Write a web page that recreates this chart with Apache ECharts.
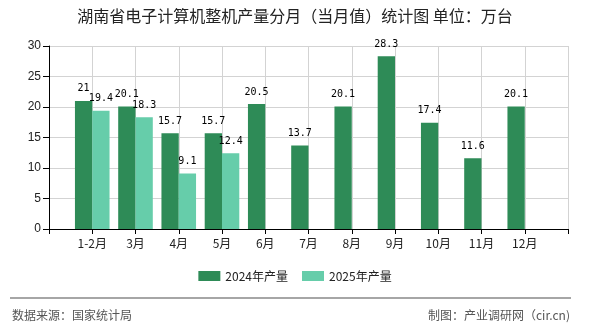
<!DOCTYPE html>
<html><head><meta charset="utf-8">
<script src="https://cdn.jsdelivr.net/npm/echarts@6/dist/echarts.min.js"></script>
<style>html,body{margin:0;padding:0;background:#fff}#c{width:590px;height:330px}</style>
</head><body><div id="c"></div>
<script>
const categories = ['', '1-2月', '3月', '4月', '5月', '6月', '7月', '8月', '9月', '10月', '11月', '12月', ''];
const values2024 = [null, 21, 20.1, 15.7, 15.7, 20.5, 13.7, 20.1, 28.3, 17.4, 11.6, 20.1, null];
const values2025 = [null, 19.4, 18.3, 9.1, 12.4, null, null, null, null, null, null, null, null];
const yTicks = [0, 5, 10, 15, 20, 25, 30];
const seriesNames = ['2024年产量', '2025年产量'];

const cjk = '"Noto Sans CJK SC", "Liberation Sans", sans-serif';
const chart = echarts.init(document.getElementById('c'), null, {renderer: 'canvas'});
const labelStyle = {show: true, position: 'top', distance: 7, color: '#000', fontSize: 10, fontFamily: '"DejaVu Sans Mono", monospace'};
chart.setOption({
  animation: false,
  backgroundColor: '#fff',
  title: {
    text: '湖南省电子计算机整机产量分月（当月值）统计图 单位：万台',
    left: 'center', top: 3,
    textStyle: {fontSize: 16, fontWeight: 'normal', color: '#222', fontFamily: cjk}
  },
  legend: {
    data: seriesNames, top: 265, left: 'center',
    itemWidth: 22, itemHeight: 10, itemGap: 14, icon: 'rect',
    textStyle: {fontSize: 12, color: '#222', fontFamily: cjk}
  },
  grid: {left: 49, right: 22, top: 46, bottom: 101, containLabel: false},
  xAxis: {
    type: 'category', data: categories, boundaryGap: false,
    axisLine: {show: true, lineStyle: {color: '#000', width: 1}},
    axisTick: {show: true, interval: 0, length: 5, lineStyle: {color: '#000'}},
    axisLabel: {interval: 0, color: '#222', fontSize: 12, margin: 8, fontFamily: cjk},
    splitLine: {show: true, interval: 0, lineStyle: {color: '#d3d3d3', width: 1}}
  },
  yAxis: {
    type: 'value', min: yTicks[0], max: yTicks[yTicks.length - 1], interval: 5,
    axisLine: {show: true, lineStyle: {color: '#000', width: 1}},
    axisTick: {show: true, length: 6, lineStyle: {color: '#000'}},
    axisLabel: {color: '#222', fontSize: 12, margin: 8, fontFamily: '"Liberation Sans", Arial, sans-serif'},
    splitLine: {show: true, lineStyle: {color: '#d3d3d3', width: 1}}
  },
  series: [
    {name: seriesNames[0], type: 'bar', data: values2024, barWidth: '40%', barGap: '0%',
     itemStyle: {color: '#2E8B57'}, label: labelStyle},
    {name: seriesNames[1], type: 'bar', data: values2025, barWidth: '40%', barGap: '0%',
     itemStyle: {color: '#66CDAA'}, label: labelStyle}
  ],
  graphic: [
    {type: 'line', shape: {x1: 10, y1: 298, x2: 571, y2: 298}, style: {stroke: '#888', lineWidth: 1.5}},
    {type: 'text', left: 12, top: 309, style: {text: '数据来源：国家统计局', fill: '#555', fontSize: 12, fontFamily: cjk}},
    {type: 'text', right: 20, top: 309, style: {text: '制图：产业调研网（cir.cn)', fill: '#555', fontSize: 12, fontFamily: cjk}}
  ]
});
</script></body></html>
